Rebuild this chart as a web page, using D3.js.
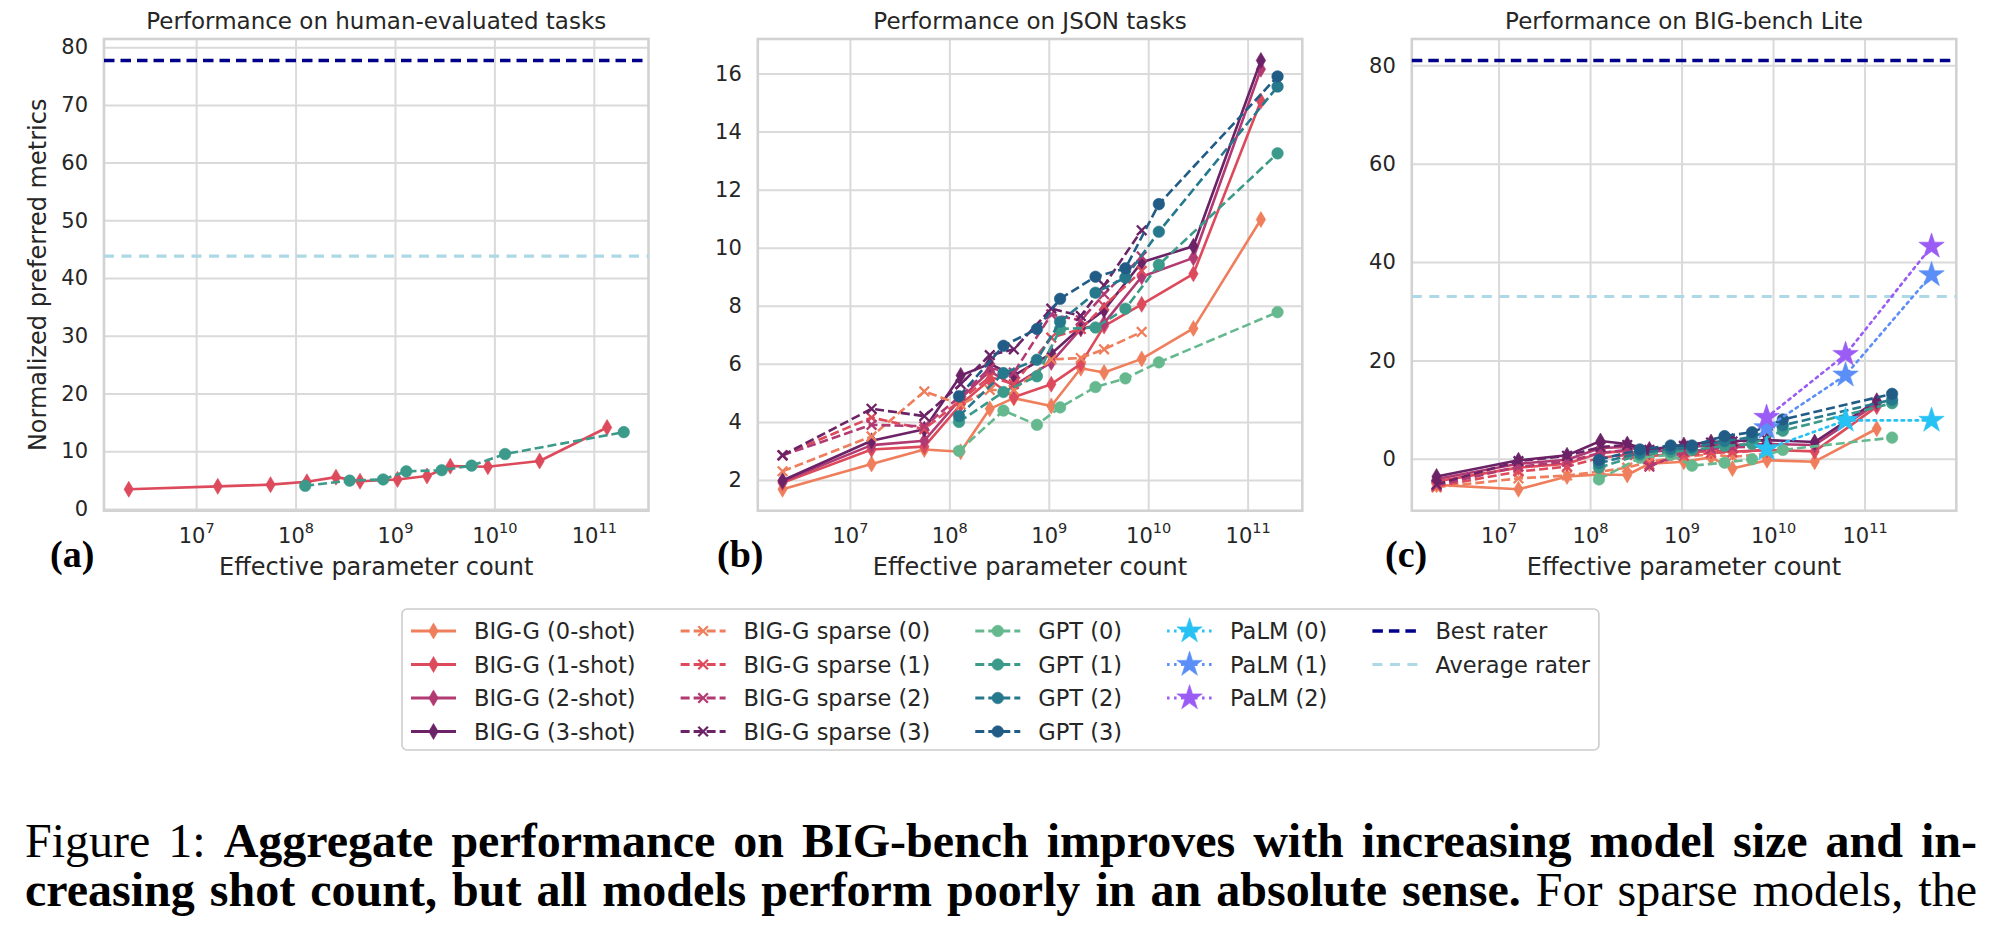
<!DOCTYPE html>
<html><head><meta charset="utf-8">
<script src="https://cdn.jsdelivr.net/npm/d3@7"></script>
<style>body{margin:0;background:#fff} svg{display:block}</style>
</head><body>
<svg id="chart" width="2000" height="926"></svg>
<script>
// ---------------- DATA ----------------
// effective parameter counts (x values)
const bigGParams   = [2.1e6, 1.65e7, 5.6e7, 1.3e8, 2.55e8, 4.45e8, 1.06e9, 2.1e9, 3.6e9, 8.6e9, 2.85e10, 1.36e11];
const sparseParams = [2.1e6, 1.65e7, 5.6e7, 1.3e8, 2.55e8, 4.45e8, 1.06e9, 2.1e9, 3.6e9, 8.6e9];
const gptParams    = [1.25e8, 3.5e8, 7.6e8, 1.3e9, 2.95e9, 5.9e9, 1.28e10, 2.0e11];
const palmParams   = [8.5e9, 6.2e10, 5.4e11];

// (a) Performance on human-evaluated tasks
const humanBigG1 = [3.4, 3.9, 4.2, 4.7, 5.5, 4.8, 5.1, 5.7, 7.4, 7.3, 8.3, 14.1];
const humanGpt1  = [4.0, 4.9, 5.1, 6.5, 6.7, 7.5, 9.5, 13.3];
const humanBestRater = 77.7;
const humanAvgRater  = 43.8;

// (b) Performance on JSON tasks
const jsonBigG0 = [1.68, 2.55, 3.05, 2.97, 4.45, 4.82, 4.55, 5.85, 5.7, 6.17, 7.22, 10.97];
const jsonBigG1 = [1.9, 3.05, 3.15, 4.6, 5.45, 4.85, 5.3, 6.0, 7.3, 8.05, 9.1, 15.05];
const jsonBigG2 = [1.95, 3.2, 3.35, 4.8, 5.75, 5.25, 6.05, 7.2, 7.4, 9.0, 9.65, 16.15];
const jsonBigG3 = [1.98, 3.35, 3.75, 5.6, 6.0, 5.6, 6.35, 7.25, 7.85, 9.5, 10.05, 16.45];
const jsonSparse0 = [2.3, 3.5, 5.05, 4.6, 5.1, 5.1, 6.15, 6.2, 6.5, 7.1];
const jsonSparse1 = [2.85, 4.15, 3.75, 4.75, 5.55, 5.3, 6.9, 7.2, 8.0, 9.2];
const jsonSparse2 = [2.85, 3.9, 3.85, 4.9, 5.85, 5.7, 7.7, 7.5, 8.4, 9.7];
const jsonSparse3 = [2.85, 4.45, 4.2, 5.3, 6.3, 6.5, 7.9, 7.65, 8.7, 10.6];
const jsonGpt0 = [3.0, 4.39, 3.9, 4.5, 5.2, 5.5, 6.05, 7.78];
const jsonGpt1 = [4.0, 5.03, 5.57, 7.2, 7.25, 7.9, 9.41, 13.25];
const jsonGpt2 = [4.2, 5.68, 6.14, 7.45, 8.45, 8.97, 10.55, 15.55];
const jsonGpt3 = [4.88, 6.62, 7.2, 8.24, 9.0, 9.29, 11.5, 15.9];

// (c) Performance on BIG-bench Lite
const bblBigG0 = [-5.3, -6.2, -3.6, -3.2, -3.3, -1.0, -0.6, 0.3, -2.0, -0.3, -0.6, 6.1];
const bblBigG1 = [-4.6, -1.8, -1.0, 1.2, 1.6, 0.5, 1.2, 1.6, 1.4, 1.8, 1.5, 10.6];
const bblBigG2 = [-4.1, -1.0, -0.2, 2.2, 2.4, 1.3, 2.2, 2.8, 2.8, 3.0, 2.8, 11.2];
const bblBigG3 = [-3.6, -0.3, 0.7, 3.6, 3.0, 1.9, 2.8, 3.4, 3.6, 3.8, 3.4, 11.8];
const bblSparse0 = [-5.8, -4.0, -3.4, -2.6, -1.8, -0.6, 0.4, 0.9, 0.4, 1.0];
const bblSparse1 = [-5.6, -2.6, -1.6, 0.2, 0.8, -1.2, 0.6, 1.2, 1.3, 1.8];
const bblSparse2 = [-5.4, -1.6, -0.6, 1.2, 1.8, -1.6, 1.4, 2.0, 2.3, 2.6];
const bblSparse3 = [-5.2, -0.5, 0.6, 2.4, 2.8, 1.8, 2.6, 3.3, 3.5, 3.8];
const bblGpt0 = [-4.2, 0.2, 0.8, -1.4, -0.8, -0.1, 1.8, 4.3];
const bblGpt1 = [-1.8, 0.8, 1.4, 1.8, 2.6, 3.0, 5.7, 11.3];
const bblGpt2 = [-0.9, 1.2, 2.0, 2.3, 3.6, 4.4, 6.8, 12.0];
const bblGpt3 = [-0.2, 1.9, 2.7, 2.7, 4.6, 5.4, 8.0, 13.2];
const bblPalm0 = [2.0, 7.8, 7.8];
const bblPalm1 = [6.3, 17.0, 37.4];
const bblPalm2 = [8.4, 21.2, 43.2];
const bblBestRater = 81.0;
const bblAvgRater  = 33.0;

// tick values / labels
const xTickValues = [1e7, 1e8, 1e9, 1e10, 1e11];
const yTicksA = [0, 10, 20, 30, 40, 50, 60, 70, 80];
const yTicksB = [2, 4, 6, 8, 10, 12, 14, 16];
const yTicksC = [0, 20, 40, 60, 80];
const panelTitles = ["Performance on human-evaluated tasks", "Performance on JSON tasks", "Performance on BIG-bench Lite"];
const panelLetters = ["(a)", "(b)", "(c)"];
const xAxisLabel = "Effective parameter count";
const yAxisLabel = "Normalized preferred metrics";
const legendColumns = [
  ["BIG-G (0-shot)", "BIG-G (1-shot)", "BIG-G (2-shot)", "BIG-G (3-shot)"],
  ["BIG-G sparse (0)", "BIG-G sparse (1)", "BIG-G sparse (2)", "BIG-G sparse (3)"],
  ["GPT (0)", "GPT (1)", "GPT (2)", "GPT (3)"],
  ["PaLM (0)", "PaLM (1)", "PaLM (2)"],
  ["Best rater", "Average rater"]
];
const captionLine1 = [["Figure 1: ", false], ["Aggregate performance on BIG-bench improves with increasing model size and in-", true]];
const captionLine2 = [["creasing shot count, but all models perform poorly in an absolute sense.", true], [" For sparse models, the", false]];

// ---------------- STYLES ----------------
const styleOf = {
  "BIG-G (0-shot)":   {color:"#ee7e5c", dash:null, marker:"thin"},
  "BIG-G (1-shot)":   {color:"#dc4a5c", dash:null, marker:"thin"},
  "BIG-G (2-shot)":   {color:"#b23a72", dash:null, marker:"thin"},
  "BIG-G (3-shot)":   {color:"#6c2266", dash:null, marker:"thin"},
  "BIG-G sparse (0)": {color:"#ee7e5c", dash:"9,4", marker:"x"},
  "BIG-G sparse (1)": {color:"#dc4a5c", dash:"9,4", marker:"x"},
  "BIG-G sparse (2)": {color:"#b23a72", dash:"9,4", marker:"x"},
  "BIG-G sparse (3)": {color:"#6c2266", dash:"9,4", marker:"x"},
  "GPT (0)": {color:"#66b98f", dash:"9,4", marker:"circle"},
  "GPT (1)": {color:"#3b9a89", dash:"9,4", marker:"circle"},
  "GPT (2)": {color:"#26798c", dash:"9,4", marker:"circle"},
  "GPT (3)": {color:"#215c87", dash:"9,4", marker:"circle"},
  "PaLM (0)": {color:"#27c2f3", dash:"2.5,4.5", marker:"star"},
  "PaLM (1)": {color:"#5b8ff7", dash:"2.5,4.5", marker:"star"},
  "PaLM (2)": {color:"#9a5cf5", dash:"2.5,4.5", marker:"star"},
  "Best rater":    {color:"#00008b", dash:"10.5,6", width:3.6},
  "Average rater": {color:"#add8e6", dash:"10,7.5", width:3.2}
};

const FONT = "'DejaVu Sans', sans-serif";
const SERIF = "'Liberation Serif', 'Times New Roman', serif";
const TXT = "#262626";
const GRID = "#dadada";
const LW = 2.6;

const panelX = [[104, 648.5], [757.8, 1302.3], [1411.8, 1956.3]];
const PY0 = 39, PY1 = 510.7;

const svg = d3.select("#chart").attr("font-family", FONT);

function markerPath(kind) {
  if (kind === "thin") return "M0,-8L4.7,0L0,8L-4.7,0Z";
  if (kind === "x") return "M-4.8,-4.8L4.8,4.8M-4.8,4.8L4.8,-4.8";
  if (kind === "circle") return d3.symbol(d3.symbolCircle, 105)();
  if (kind === "star") return d3.symbol(d3.symbolStar, 200)();
  return null;
}
function drawMarker(g, kind, color, cx, cy) {
  const p = g.append("path").attr("d", markerPath(kind)).attr("transform", `translate(${cx},${cy})`);
  if (kind === "x") p.attr("fill", "none").attr("stroke", color).attr("stroke-width", 2.3);
  else p.attr("fill", color).attr("stroke", color).attr("stroke-width", 0.6);
}

function logDomain(vals) {
  const l = vals.map(Math.log10), mn = d3.min(l), mx = d3.max(l), s = mx - mn;
  return [Math.pow(10, mn - 0.05 * s), Math.pow(10, mx + 0.05 * s)];
}
function linDomain(vals) {
  const mn = d3.min(vals), mx = d3.max(vals), s = mx - mn;
  return [mn - 0.05 * s, mx + 0.05 * s];
}

const panels = [
  { series: [["BIG-G (1-shot)", bigGParams, humanBigG1], ["GPT (1)", gptParams, humanGpt1]],
    raters: [humanBestRater, humanAvgRater], yTicks: yTicksA },
  { series: [["BIG-G (0-shot)", bigGParams, jsonBigG0], ["BIG-G (1-shot)", bigGParams, jsonBigG1],
             ["BIG-G (2-shot)", bigGParams, jsonBigG2], ["BIG-G (3-shot)", bigGParams, jsonBigG3],
             ["BIG-G sparse (0)", sparseParams, jsonSparse0], ["BIG-G sparse (1)", sparseParams, jsonSparse1],
             ["BIG-G sparse (2)", sparseParams, jsonSparse2], ["BIG-G sparse (3)", sparseParams, jsonSparse3],
             ["GPT (0)", gptParams, jsonGpt0], ["GPT (1)", gptParams, jsonGpt1],
             ["GPT (2)", gptParams, jsonGpt2], ["GPT (3)", gptParams, jsonGpt3]],
    raters: null, yTicks: yTicksB },
  { series: [["BIG-G (0-shot)", bigGParams, bblBigG0], ["BIG-G (1-shot)", bigGParams, bblBigG1],
             ["BIG-G (2-shot)", bigGParams, bblBigG2], ["BIG-G (3-shot)", bigGParams, bblBigG3],
             ["BIG-G sparse (0)", sparseParams, bblSparse0], ["BIG-G sparse (1)", sparseParams, bblSparse1],
             ["BIG-G sparse (2)", sparseParams, bblSparse2], ["BIG-G sparse (3)", sparseParams, bblSparse3],
             ["GPT (0)", gptParams, bblGpt0], ["GPT (1)", gptParams, bblGpt1],
             ["GPT (2)", gptParams, bblGpt2], ["GPT (3)", gptParams, bblGpt3],
             ["PaLM (0)", palmParams, bblPalm0], ["PaLM (1)", palmParams, bblPalm1], ["PaLM (2)", palmParams, bblPalm2]],
    raters: [bblBestRater, bblAvgRater], yTicks: yTicksC }
];

const letterX = [50, 717, 1385];

panels.forEach((p, i) => {
  const [x0, x1] = panelX[i];
  const allX = [].concat(...p.series.map(s => s[1]));
  const allY = [].concat(...p.series.map(s => s[2])).concat(p.raters || []);
  const x = d3.scaleLog().domain(logDomain(allX)).range([x0, x1]);
  const y = d3.scaleLinear().domain(linDomain(allY)).range([PY1, PY0]);
  const g = svg.append("g");

  // y axis + horizontal grid
  const ya = g.append("g").attr("transform", `translate(${x0},0)`)
    .call(d3.axisLeft(y).tickValues(p.yTicks).tickSize(-(x1 - x0)).tickPadding(16).tickFormat(d3.format("d")));
  ya.select(".domain").remove();
  ya.selectAll(".tick line").attr("stroke", GRID).attr("stroke-width", 2);
  ya.selectAll(".tick text").attr("fill", TXT).attr("font-size", 21).attr("font-family", FONT);

  // x axis + vertical grid
  const xa = g.append("g").attr("transform", `translate(0,${PY1})`)
    .call(d3.axisBottom(x).tickValues(xTickValues).tickSize(-(PY1 - PY0)).tickFormat(() => ""));
  xa.select(".domain").remove();
  xa.selectAll(".tick line").attr("stroke", GRID).attr("stroke-width", 2);
  xa.selectAll(".tick text").each(function(d) {
    const t = d3.select(this).attr("y", 32.5).attr("dy", null).attr("fill", TXT)
      .attr("font-size", 21).attr("font-family", FONT).attr("text-anchor", "middle");
    t.append("tspan").text("10");
    t.append("tspan").attr("font-size", 14.5).attr("dy", -10).text(String(Math.round(Math.log10(d))));
  });

  // frame
  g.append("rect").attr("x", x0).attr("y", PY0).attr("width", x1 - x0).attr("height", PY1 - PY0)
    .attr("fill", "none").attr("stroke", "#d2d2d2").attr("stroke-width", 2.6);

  // rater lines
  if (p.raters) {
    ["Best rater", "Average rater"].forEach((name, k) => {
      const st = styleOf[name];
      g.append("line").attr("x1", x0).attr("x2", x1).attr("y1", y(p.raters[k])).attr("y2", y(p.raters[k]))
        .attr("stroke", st.color).attr("stroke-width", st.width).attr("stroke-dasharray", st.dash);
    });
  }

  // series
  const line = d3.line().x(d => x(d[0])).y(d => y(d[1]));
  p.series.forEach(([name, xs, ys]) => {
    const st = styleOf[name];
    const pts = xs.map((v, j) => [v, ys[j]]);
    g.append("path").datum(pts).attr("d", line).attr("fill", "none")
      .attr("stroke", st.color).attr("stroke-width", LW)
      .attr("stroke-dasharray", st.dash).attr("stroke-linecap", st.marker === "star" ? "round" : "butt")
      .attr("stroke-linejoin", "round");
    pts.forEach(pt => drawMarker(g, st.marker, st.color, x(pt[0]), y(pt[1])));
  });

  // title
  svg.append("text").attr("x", (x0 + x1) / 2).attr("y", 29).attr("text-anchor", "middle")
    .attr("font-size", 23).attr("fill", TXT).text(panelTitles[i]);
  // x label
  svg.append("text").attr("x", (x0 + x1) / 2).attr("y", 575).attr("text-anchor", "middle")
    .attr("font-size", 24).attr("fill", TXT).text(xAxisLabel);
  // panel letter
  svg.append("text").attr("x", letterX[i]).attr("y", 567).attr("font-family", SERIF)
    .attr("font-weight", "bold").attr("font-size", 38).attr("fill", "#000").text(panelLetters[i]);
});

// y label
svg.append("text").attr("transform", `translate(38,${(PY0 + PY1) / 2}) rotate(-90)`)
  .attr("text-anchor", "middle").attr("dominant-baseline", "central")
  .attr("font-size", 24).attr("fill", TXT).text(yAxisLabel);

// ---------------- LEGEND ----------------
(function legend() {
  const F = 22.5;
  const lg = svg.append("g");
  const boxX = 402, boxY = 609, rowY0 = 631, rowGap = 33.5;
  const handleLen = 2 * F, pad = 0.8 * F, colSpace = 2 * F, border = 0.4 * F;
  const frame = lg.append("rect");
  let cx = boxX + border;
  legendColumns.forEach(col => {
    let maxW = 0;
    col.forEach((name, r) => {
      const st = styleOf[name];
      const cy = rowY0 + r * rowGap;
      lg.append("line").attr("x1", cx).attr("x2", cx + handleLen).attr("y1", cy).attr("y2", cy)
        .attr("stroke", st.color).attr("stroke-width", st.width || LW + 0.4)
        .attr("stroke-dasharray", st.dash);
      if (st.marker) drawMarker(lg, st.marker, st.color, cx + handleLen / 2, cy);
      const t = lg.append("text").attr("x", cx + handleLen + pad).attr("y", cy)
        .attr("dominant-baseline", "central").attr("font-size", F).attr("fill", TXT).text(name);
      maxW = Math.max(maxW, t.node().getComputedTextLength());
    });
    cx += handleLen + pad + maxW + colSpace;
  });
  const boxW = cx - colSpace + border - boxX;
  frame.attr("x", boxX).attr("y", boxY).attr("width", boxW).attr("height", 141).attr("rx", 5)
    .attr("fill", "#fff").attr("fill-opacity", 0.8).attr("stroke", "#cccccc").attr("stroke-width", 1.6);
})();

// ---------------- CAPTION ----------------
function captionLine(parts, yBase) {
  const t = svg.append("text").attr("x", 25).attr("y", yBase).attr("font-family", SERIF)
    .attr("font-size", 48).attr("fill", "#000");
  parts.forEach(([s, bold]) => t.append("tspan").attr("font-weight", bold ? "bold" : "normal").text(s));
  const natural = t.node().getComputedTextLength();
  const spaces = parts.map(p => p[0]).join("").trim().split(" ").length - 1;
  const target = 1977 - 25;
  t.attr("word-spacing", (target - natural) / spaces);
}
captionLine(captionLine1, 857);
captionLine(captionLine2, 906);
</script>
</body></html>
